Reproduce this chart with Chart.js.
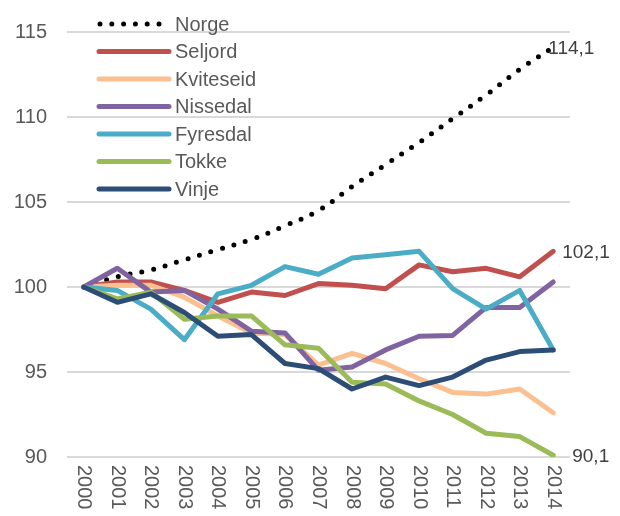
<!DOCTYPE html>
<html>
<head>
<meta charset="utf-8">
<script src="https://cdn.jsdelivr.net/npm/chart.js@4.4.1/dist/chart.umd.min.js"></script>
<style>
  html, body { margin: 0; padding: 0; background: #fff; }
  #wrap { width: 620px; height: 516px; }
</style>
</head>
<body>
<div id="wrap"><canvas id="chart"></canvas></div>
<script>
const years = ['2000', '2001', '2002', '2003', '2004', '2005', '2006', '2007',
               '2008', '2009', '2010', '2011', '2012', '2013', '2014'];

const norge     = [100, 100.6, 101.0, 101.6, 102.2, 102.8, 103.6, 104.5, 105.9, 107.2, 108.5, 109.9, 111.3, 112.8, 114.1];
const seljord   = [100, 100.3, 100.3, 99.8, 99.1, 99.7, 99.5, 100.2, 100.1, 99.9, 101.3, 100.9, 101.1, 100.6, 102.1];
const kviteseid = [100, 100.1, 100.1, 99.4, 98.3, 97.3, 97.2, 95.4, 96.1, 95.5, 94.6, 93.8, 93.7, 94.0, 92.6];
const nissedal  = [100, 101.1, 99.7, 99.8, 98.7, 97.4, 97.3, 95.1, 95.3, 96.3, 97.1, 97.15, 98.8, 98.8, 100.3];
const fyresdal  = [100, 99.8, 98.7, 96.9, 99.6, 100.1, 101.2, 100.75, 101.7, 101.9, 102.1, 99.9, 98.7, 99.8, 96.3];
const tokke     = [100, 99.3, 99.7, 98.1, 98.3, 98.3, 96.6, 96.4, 94.4, 94.3, 93.3, 92.5, 91.4, 91.2, 90.1];
const vinje     = [100, 99.1, 99.6, 98.5, 97.1, 97.2, 95.5, 95.2, 94.0, 94.7, 94.2, 94.7, 95.7, 96.2, 96.3];

const seriesNames = ['Norge', 'Seljord', 'Kviteseid', 'Nissedal', 'Fyresdal', 'Tokke', 'Vinje'];
const seriesData = [norge, seljord, kviteseid, nissedal, fyresdal, tokke, vinje];
const seriesColors = ['#000000', '#C0504D', '#FAC090', '#8064A2', '#4BACC6', '#9BBB59', '#2C4D75'];

// series that get their last value written at the end of the line
const labelledSeries = ['Norge', 'Seljord', 'Tokke'];

const FONT = '"Liberation Sans", Arial, sans-serif';
const TEXT = '#595959';

const datasets = seriesNames.map((name, i) => {
    const ds = {
        label: name,
        data: seriesData[i],
        borderColor: seriesColors[i],
        backgroundColor: seriesColors[i],
        borderWidth: 5,
        borderCapStyle: 'round',
        borderJoinStyle: 'round',
        pointRadius: 0,
        tension: 0,
        fill: false,
        order: seriesNames.length - i   // later series on top, like the original
    };
    if (name === 'Norge') {
        ds.borderDash = [0, 12];
        ds.tension = 0.4;
    }
    return ds;
});

// legend inside the plot, x labels turned downwards, end labels
const extras = {
    id: 'extras',
    afterDraw(chart) {
        const ctx = chart.ctx;
        const x = chart.scales.x;

        ctx.save();
        ctx.fillStyle = TEXT;
        ctx.font = '20px ' + FONT;
        ctx.textBaseline = 'middle';
        ctx.textAlign = 'left';
        years.forEach((yr, i) => {
            const px = x.getPixelForValue(i);
            ctx.save();
            ctx.translate(px, 465);
            ctx.rotate(Math.PI / 2);
            ctx.fillText(yr, 0, 0);
            ctx.restore();
        });
        ctx.restore();

        // legend
        ctx.save();
        ctx.font = '20px ' + FONT;
        ctx.textBaseline = 'middle';
        chart.data.datasets.forEach((ds, i) => {
            const y = 24 + i * 27.5;
            ctx.strokeStyle = ds.borderColor;
            ctx.lineWidth = 5;
            ctx.lineCap = 'round';
            if (ds.borderDash) {
                ctx.setLineDash([0, 11.8]);
                ctx.beginPath();
                ctx.moveTo(100, y);
                ctx.lineTo(165, y);
                ctx.stroke();
                ctx.setLineDash([]);
            } else {
                ctx.beginPath();
                ctx.moveTo(99, y);
                ctx.lineTo(169, y);
                ctx.stroke();
            }
            ctx.fillStyle = TEXT;
            ctx.fillText(ds.label, 175, y + 1);
        });
        ctx.restore();

        // end labels
        const offsets = { Norge: -5, Seljord: 9, Tokke: 19 };
        ctx.save();
        ctx.font = '19px ' + FONT;
        ctx.fillStyle = '#404040';
        ctx.textBaseline = 'middle';
        chart.data.datasets.forEach((ds, i) => {
            if (!labelledSeries.includes(ds.label)) return;
            const meta = chart.getDatasetMeta(i);
            const last = meta.data[meta.data.length - 1];
            const v = ds.data[ds.data.length - 1];
            ctx.fillText(v.toFixed(1).replace('.', ','), last.x + offsets[ds.label], last.y + 1);
        });
        ctx.restore();
    }
};

new Chart(document.getElementById('chart'), {
    type: 'line',
    data: { labels: years, datasets: datasets },
    options: {
        responsive: true,
        maintainAspectRatio: false,
        animation: false,
        layout: { padding: { top: 24, right: 50, left: 0, bottom: 0 } },
        scales: {
            x: {
                offset: true,
                grid: { display: false },
                border: { display: false },
                ticks: { display: false },
                afterFit: (scale) => { scale.height = 59; }
            },
            y: {
                min: 90,
                max: 115,
                ticks: {
                    stepSize: 5,
                    padding: 20,
                    color: TEXT,
                    font: { family: FONT, size: 20 }
                },
                grid: { color: '#D9D9D9', lineWidth: 2, drawTicks: false },
                border: { display: false },
                afterFit: (scale) => { scale.width = 67; }
            }
        },
        plugins: {
            legend: { display: false },
            tooltip: { enabled: false }
        }
    },
    plugins: [extras]
});
</script>
</body>
</html>
